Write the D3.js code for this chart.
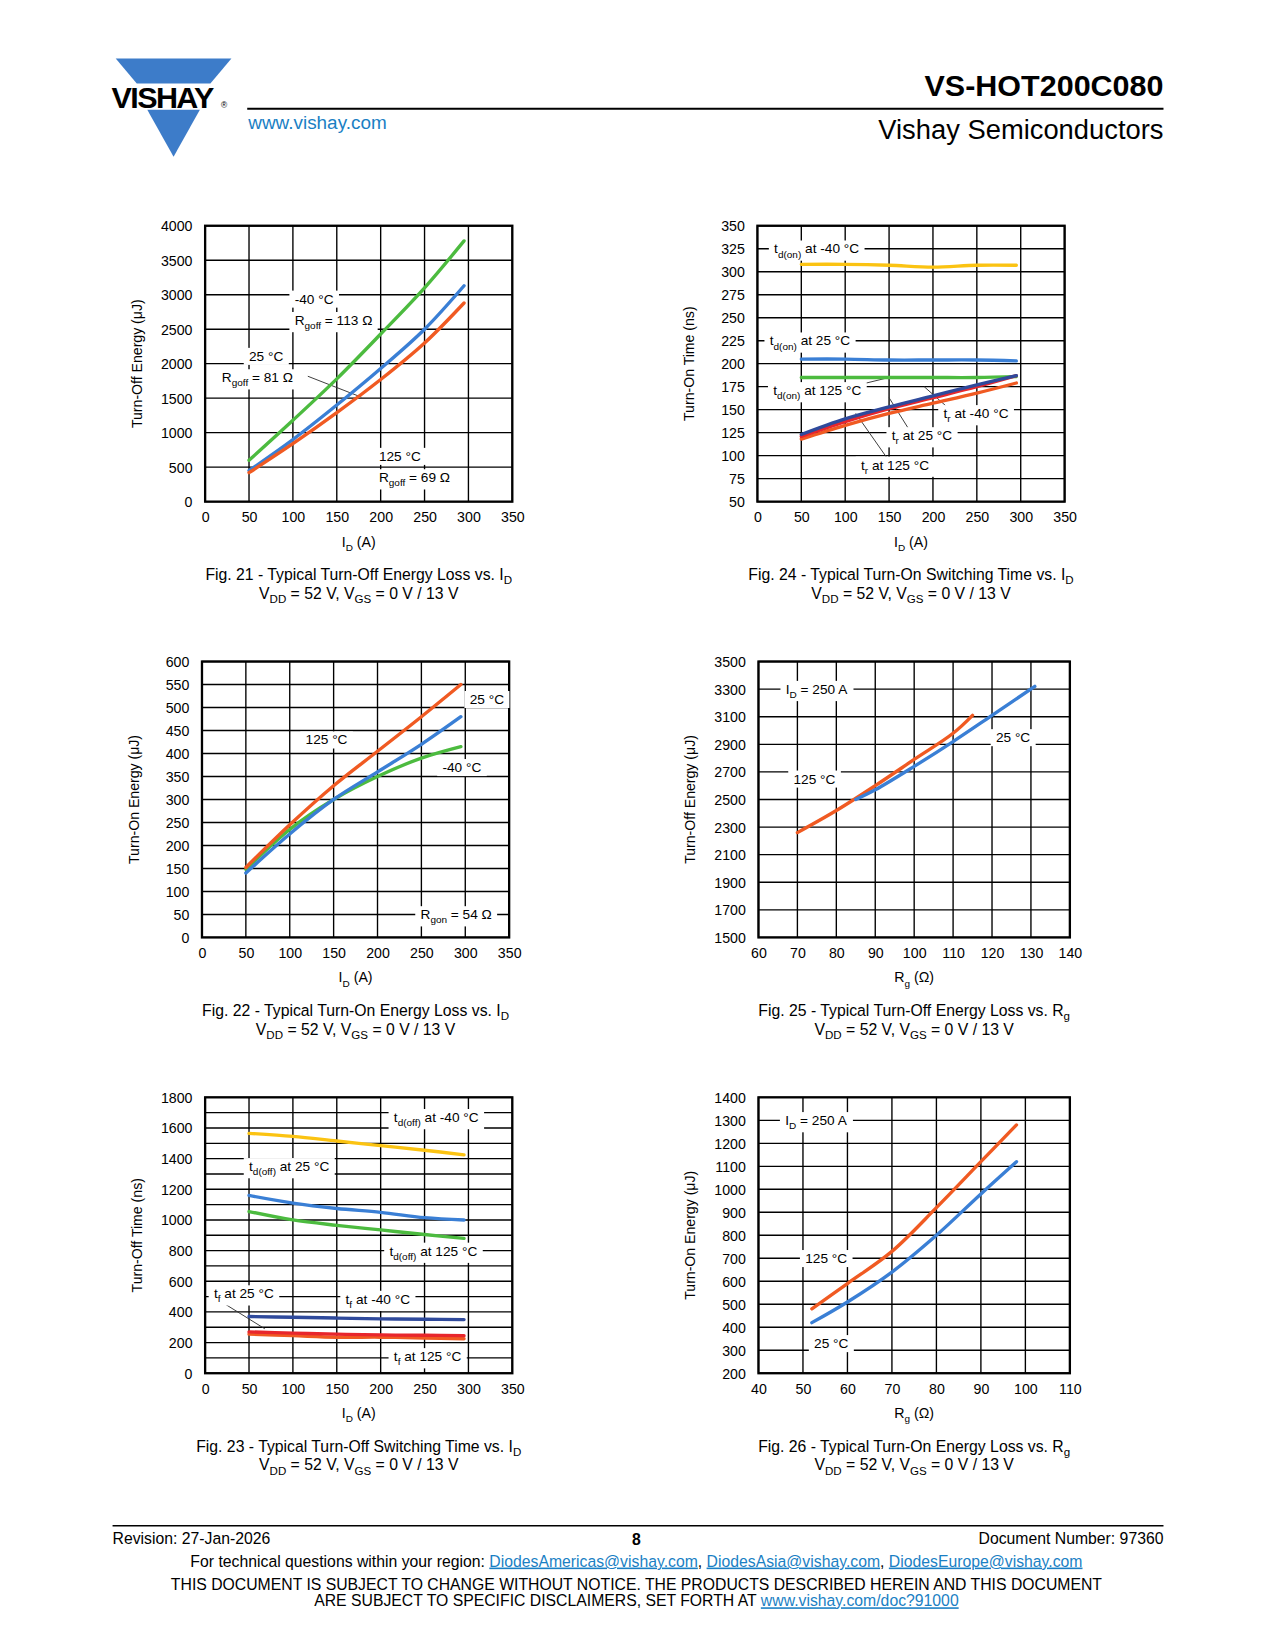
<!DOCTYPE html>
<html><head><meta charset="utf-8">
<script src="https://cdn.jsdelivr.net/npm/d3@7"></script>
<style>body{margin:0;background:#fff}svg{font-family:"Liberation Sans",Arial,sans-serif}</style>
</head><body><svg id="page" width="1275" height="1650"></svg>
<script>
// ---- data ----
const id21 = [50, 100, 150, 200, 250, 295];
const eoff21_m40 = [600, 1180, 1780, 2430, 3100, 3780];
const eoff21_25 = [450, 900, 1400, 1930, 2500, 3130];
const eoff21_125 = [420, 840, 1290, 1770, 2300, 2880];

const id24 = [50, 100, 150, 200, 250, 295];
const tdon_m40 = [308, 308, 307, 305, 307, 307];
const tdon_25 = [205, 205, 204, 204, 204, 203];
const tdon_125 = [185, 185, 185, 185, 185, 186];
const tr_m40 = [123, 140, 153, 165, 177, 187];
const tr_25 = [121, 137, 151, 163, 175, 187];
const tr_125 = [118, 133, 146, 157, 168, 179];

const id22 = [50, 100, 150, 200, 250, 295];
const eon22_125 = [152, 245, 330, 405, 480, 550];
const eon22_25 = [140, 225, 300, 360, 420, 480];
const eon22_m40 = [148, 235, 300, 350, 390, 415];

const rg25_125 = [70, 80, 90, 100, 110, 115];
const eoff25_125 = [2260, 2420, 2600, 2790, 2980, 3110];
const rg25_25 = [85, 90, 100, 110, 120, 131];
const eoff25_25 = [2500, 2570, 2740, 2920, 3110, 3320];

const id23 = [50, 100, 150, 200, 250, 295];
const tdoff_m40 = [1565, 1545, 1515, 1485, 1455, 1425];
const tdoff_25 = [1160, 1110, 1075, 1050, 1015, 1000];
const tdoff_125 = [1055, 1000, 965, 935, 905, 880];
const tf_m40 = [370, 365, 360, 355, 352, 350];
const tf_25 = [270, 262, 255, 250, 248, 245];
const tf_125 = [255, 245, 235, 235, 230, 225];

const rg26 = [52, 60, 70, 80, 90, 98];
const eon26_125 = [480, 590, 730, 920, 1120, 1280];
const eon26_25 = [420, 510, 640, 800, 980, 1120];

const C = {green: "#4cbb3f", blue: "#3a7fd5", orange: "#f05a22", yellow: "#fbc312", navy: "#2f4a9c", red: "#e8262c"};

// layout was measured on a reduced view of the page
const svg = d3.select("#page").append("g").attr("transform", "scale(" + (1275 / 1212) + "," + (1275 / 1220) + ")");

// ---- header ----
const logo = svg.append("g");
logo.append("polygon").attr("points", "110,56 220,56 200,80 130,80").attr("fill", "#3d7cc9");
logo.append("polygon").attr("points", "140,105 190,105 165,150").attr("fill", "#3d7cc9");
logo.append("text").attr("x", 106).attr("y", 103).attr("font-size", 29).attr("font-weight", "bold")
  .attr("letter-spacing", -1.5).text("VISHAY");
logo.append("text").attr("x", 210).attr("y", 103).attr("font-size", 8).text("®");
svg.append("line").attr("x1", 235).attr("x2", 1106).attr("y1", 104).attr("y2", 104).attr("stroke", "#000").attr("stroke-width", 2);
svg.append("text").attr("x", 236).attr("y", 123).attr("font-size", 18).attr("fill", "#1a7fc4").text("www.vishay.com");
svg.append("text").attr("x", 1106).attr("y", 92).attr("text-anchor", "end").attr("font-size", 29).attr("font-weight", "bold").text("VS-HOT200C080");
svg.append("text").attr("x", 1106).attr("y", 133).attr("text-anchor", "end").attr("font-size", 26).text("Vishay Semiconductors");

// ---- footer ----
svg.append("line").attr("x1", 107).attr("x2", 1106).attr("y1", 1460).attr("y2", 1460).attr("stroke", "#000").attr("stroke-width", 1.5);
const ft = svg.append("g").attr("font-size", 15);
ft.append("text").attr("x", 107).attr("y", 1477).text("Revision: 27-Jan-2026");
ft.append("text").attr("x", 605).attr("y", 1478).attr("text-anchor", "middle").attr("font-weight", "bold").text("8");
ft.append("text").attr("x", 1106).attr("y", 1477).attr("text-anchor", "end").text("Document Number: 97360");
const l2 = ft.append("text").attr("x", 605).attr("y", 1499).attr("text-anchor", "middle");
l2.append("tspan").text("For technical questions within your region: ");
[["DiodesAmericas@vishay.com", ", "], ["DiodesAsia@vishay.com", ", "], ["DiodesEurope@vishay.com", ""]].forEach(([a, s]) => {
  l2.append("tspan").attr("fill", "#1a7fc4").attr("text-decoration", "underline").text(a);
  if (s) l2.append("tspan").text(s);
});
ft.append("text").attr("x", 605).attr("y", 1521).attr("text-anchor", "middle").text("THIS DOCUMENT IS SUBJECT TO CHANGE WITHOUT NOTICE. THE PRODUCTS DESCRIBED HEREIN AND THIS DOCUMENT");
const l4 = ft.append("text").attr("x", 605).attr("y", 1537).attr("text-anchor", "middle");
l4.append("tspan").text("ARE SUBJECT TO SPECIFIC DISCLAIMERS, SET FORTH AT ");
l4.append("tspan").attr("fill", "#1a7fc4").attr("text-decoration", "underline").text("www.vishay.com/doc?91000");

// rich text: array of [text, isSub]
function rich(sel, parts, subSize) {
  let shift = 0;
  parts.forEach(([t, sub]) => {
    const ts = sel.append("tspan").text(t);
    if (sub) { ts.attr("font-size", subSize); if (!shift) { ts.attr("dy", 4); shift = 4; } }
    else if (shift) { ts.attr("dy", -4); shift = 0; }
  });
}

function chart(cfg) {
  const {x0, y0, w, h} = cfg;
  const g = svg.append("g");
  const x = d3.scaleLinear().domain(cfg.xd).range([x0, x0 + w]);
  const y = d3.scaleLinear().domain(cfg.yd).range([y0 + h, y0]);
  // grid
  g.selectAll(".gx").data(d3.range(cfg.xd[0], cfg.xd[1] + 1e-9, cfg.xg)).join("line")
    .attr("x1", d => x(d)).attr("x2", d => x(d)).attr("y1", y0).attr("y2", y0 + h).attr("stroke", "#000").attr("stroke-width", 1.3);
  g.selectAll(".gy").data(d3.range(cfg.yd[0], cfg.yd[1] + 1e-9, cfg.yg)).join("line")
    .attr("x1", x0).attr("x2", x0 + w).attr("y1", d => y(d)).attr("y2", d => y(d)).attr("stroke", "#000").attr("stroke-width", 1.3);
  g.append("rect").attr("x", x0).attr("y", y0).attr("width", w).attr("height", h).attr("fill", "none").attr("stroke", "#000").attr("stroke-width", 2.2);
  // axes
  const xa = g.append("g").attr("transform", `translate(0,${y0 + h})`)
    .call(d3.axisBottom(x).tickValues(d3.range(cfg.xd[0], cfg.xd[1] + 1e-9, cfg.xt)).tickSize(0).tickPadding(10).tickFormat(d3.format("d")));
  const ya = g.append("g").attr("transform", `translate(${x0},0)`)
    .call(d3.axisLeft(y).tickValues(d3.range(cfg.yd[0], cfg.yd[1] + 1e-9, cfg.yt)).tickSize(0).tickPadding(12).tickFormat(d3.format("d")));
  [xa, ya].forEach(a => { a.select(".domain").remove(); a.selectAll("text").attr("font-size", 13.5).attr("font-family", "Liberation Sans, Arial, sans-serif").attr("fill", "#000"); });
  ya.selectAll("text").attr("dy", "0.35em");
  // axis titles
  const xt = g.append("text").attr("x", x0 + w / 2).attr("y", y0 + h + 43).attr("text-anchor", "middle").attr("font-size", 13.5);
  rich(xt, cfg.xTitle, 9.5);
  g.append("text").attr("transform", `translate(${x0 - 60},${y0 + h / 2}) rotate(-90)`).attr("text-anchor", "middle").attr("font-size", 13.5).text(cfg.yTitle);
  // captions
  const c1 = g.append("text").attr("x", x0 + w / 2).attr("y", y0 + h + 75).attr("text-anchor", "middle").attr("font-size", 15);
  rich(c1, cfg.cap1, 11);
  const c2 = g.append("text").attr("x", x0 + w / 2).attr("y", y0 + h + 93).attr("text-anchor", "middle").attr("font-size", 15);
  rich(c2, [["V"], ["DD", 1], [" = 52 V, V"], ["GS", 1], [" = 0 V / 13 V"]], 11);
  // leader lines
  (cfg.leaders || []).forEach(l => g.append("line").attr("x1", x(l[0])).attr("y1", y(l[1])).attr("x2", x(l[2])).attr("y2", y(l[3])).attr("stroke", "#333").attr("stroke-width", 0.9));
  // labels with white boxes
  (cfg.labels || []).forEach(lb => {
    const t = g.append("text").attr("x", x(lb.x)).attr("y", y(lb.y)).attr("font-size", 13).attr("dy", "0.35em");
    rich(t, lb.t, 9.5);
    const bb = t.node().getBBox();
    g.insert("rect", function() { return t.node(); }).attr("x", bb.x - 5).attr("y", bb.y - 1).attr("width", bb.width + 10).attr("height", bb.height + 2).attr("fill", "#fff");
  });
  // series
  const line = d3.line().x(d => x(d[0])).y(d => y(d[1])).curve(d3.curveCatmullRom.alpha(0.5));
  cfg.series.forEach(s => {
    g.append("path").datum(d3.zip(s.x, s.y)).attr("d", line).attr("fill", "none").attr("stroke", s.c).attr("stroke-width", 3.2).attr("stroke-linecap", "round");
  });
}

const IDt = [["I"], ["D", 1], [" (A)"]];
const RGt = [["R"], ["g", 1], [" (Ω)"]];

chart({x0: 195, y0: 216, w: 292, h: 264, xd: [0, 350], yd: [0, 4000], xg: 50, yg: 500, xt: 50, yt: 500,
  xTitle: IDt, yTitle: "Turn-Off Energy (μJ)",
  cap1: [["Fig. 21 - Typical Turn-Off Energy Loss vs. I"], ["D", 1]],
  leaders: [[117, 1818, 178, 1515]],
  labels: [
    {x: 102, y: 2940, t: [["-40 °C"]]}, {x: 102, y: 2630, t: [["R"], ["goff", 1], [" = 113 Ω"]]},
    {x: 50, y: 2110, t: [["25 °C"]]}, {x: 19, y: 1800, t: [["R"], ["goff", 1], [" = 81 Ω"]]},
    {x: 198, y: 660, t: [["125 °C"]]}, {x: 198, y: 350, t: [["R"], ["goff", 1], [" = 69 Ω"]]}],
  series: [{x: id21, y: eoff21_m40, c: C.green}, {x: id21, y: eoff21_25, c: C.blue}, {x: id21, y: eoff21_125, c: C.orange}]});

chart({x0: 720, y0: 216, w: 292, h: 264, xd: [0, 350], yd: [50, 350], xg: 50, yg: 25, xt: 50, yt: 25,
  xTitle: IDt, yTitle: "Turn-On Time (ns)",
  cap1: [["Fig. 24 - Typical Turn-On Switching Time vs. I"], ["D", 1]],
  leaders: [[90, 171, 150, 185], [222, 148, 190, 175], [175, 125, 150, 163], [148, 97, 112, 146]],
  labels: [
    {x: 19, y: 325, t: [["t"], ["d(on)", 1], [" at -40 °C"]]},
    {x: 14, y: 225, t: [["t"], ["d(on)", 1], [" at 25 °C"]]},
    {x: 18, y: 171, t: [["t"], ["d(on)", 1], [" at 125 °C"]]},
    {x: 212, y: 146, t: [["t"], ["r", 1], [" at -40 °C"]]},
    {x: 153, y: 122, t: [["t"], ["r", 1], [" at 25 °C"]]},
    {x: 118, y: 90, t: [["t"], ["r", 1], [" at 125 °C"]]}],
  series: [{x: id24, y: tdon_m40, c: C.yellow}, {x: id24, y: tdon_25, c: C.blue}, {x: id24, y: tdon_125, c: C.green},
    {x: id24, y: tr_125, c: C.orange}, {x: id24, y: tr_25, c: C.red}, {x: id24, y: tr_m40, c: C.navy}]});

chart({x0: 192, y0: 633, w: 292, h: 264, xd: [0, 350], yd: [0, 600], xg: 50, yg: 50, xt: 50, yt: 50,
  xTitle: IDt, yTitle: "Turn-On Energy (μJ)",
  cap1: [["Fig. 22 - Typical Turn-On Energy Loss vs. I"], ["D", 1]],
  labels: [
    {x: 118, y: 430, t: [["125 °C"]]}, {x: 305, y: 518, t: [["25 °C"]]},
    {x: 274, y: 370, t: [["-40 °C"]]}, {x: 249, y: 50, t: [["R"], ["gon", 1], [" = 54 Ω"]]}],
  series: [{x: id22, y: eon22_m40, c: C.green}, {x: id22, y: eon22_25, c: C.blue}, {x: id22, y: eon22_125, c: C.orange}]});

chart({x0: 721, y0: 633, w: 296, h: 264, xd: [60, 140], yd: [1500, 3500], xg: 10, yg: 200, xt: 10, yt: 200,
  xTitle: RGt, yTitle: "Turn-Off Energy (μJ)",
  cap1: [["Fig. 25 - Typical Turn-Off Energy Loss vs. R"], ["g", 1]],
  labels: [
    {x: 67, y: 3300, t: [["I"], ["D", 1], [" = 250 A"]]},
    {x: 69, y: 2650, t: [["125 °C"]]}, {x: 121, y: 2950, t: [["25 °C"]]}],
  series: [{x: rg25_125, y: eoff25_125, c: C.orange}, {x: rg25_25, y: eoff25_25, c: C.blue}]});

chart({x0: 195, y0: 1050, w: 292, h: 264, xd: [0, 350], yd: [0, 1800], xg: 50, yg: 100, xt: 50, yt: 200,
  xTitle: IDt, yTitle: "Turn-Off Time (ns)",
  cap1: [["Fig. 23 - Typical Turn-Off Switching Time vs. I"], ["D", 1]],
  leaders: [[23, 450, 68, 290]],
  labels: [
    {x: 215, y: 1670, t: [["t"], ["d(off)", 1], [" at -40 °C"]]},
    {x: 50, y: 1350, t: [["t"], ["d(off)", 1], [" at 25 °C"]]},
    {x: 210, y: 798, t: [["t"], ["d(off)", 1], [" at 125 °C"]]},
    {x: 10, y: 520, t: [["t"], ["f", 1], [" at 25 °C"]]},
    {x: 160, y: 484, t: [["t"], ["f", 1], [" at -40 °C"]]},
    {x: 215, y: 110, t: [["t"], ["f", 1], [" at 125 °C"]]}],
  series: [{x: id23, y: tdoff_m40, c: C.yellow}, {x: id23, y: tdoff_25, c: C.blue}, {x: id23, y: tdoff_125, c: C.green},
    {x: id23, y: tf_m40, c: C.navy}, {x: id23, y: tf_125, c: C.orange}, {x: id23, y: tf_25, c: C.red}]});

chart({x0: 721, y0: 1050, w: 296, h: 264, xd: [40, 110], yd: [200, 1400], xg: 10, yg: 100, xt: 10, yt: 100,
  xTitle: RGt, yTitle: "Turn-On Energy (μJ)",
  cap1: [["Fig. 26 - Typical Turn-On Energy Loss vs. R"], ["g", 1]],
  labels: [
    {x: 46, y: 1300, t: [["I"], ["D", 1], [" = 250 A"]]},
    {x: 50.5, y: 700, t: [["125 °C"]]}, {x: 52.5, y: 330, t: [["25 °C"]]}],
  series: [{x: rg26, y: eon26_125, c: C.orange}, {x: rg26, y: eon26_25, c: C.blue}]});
</script></body></html>
